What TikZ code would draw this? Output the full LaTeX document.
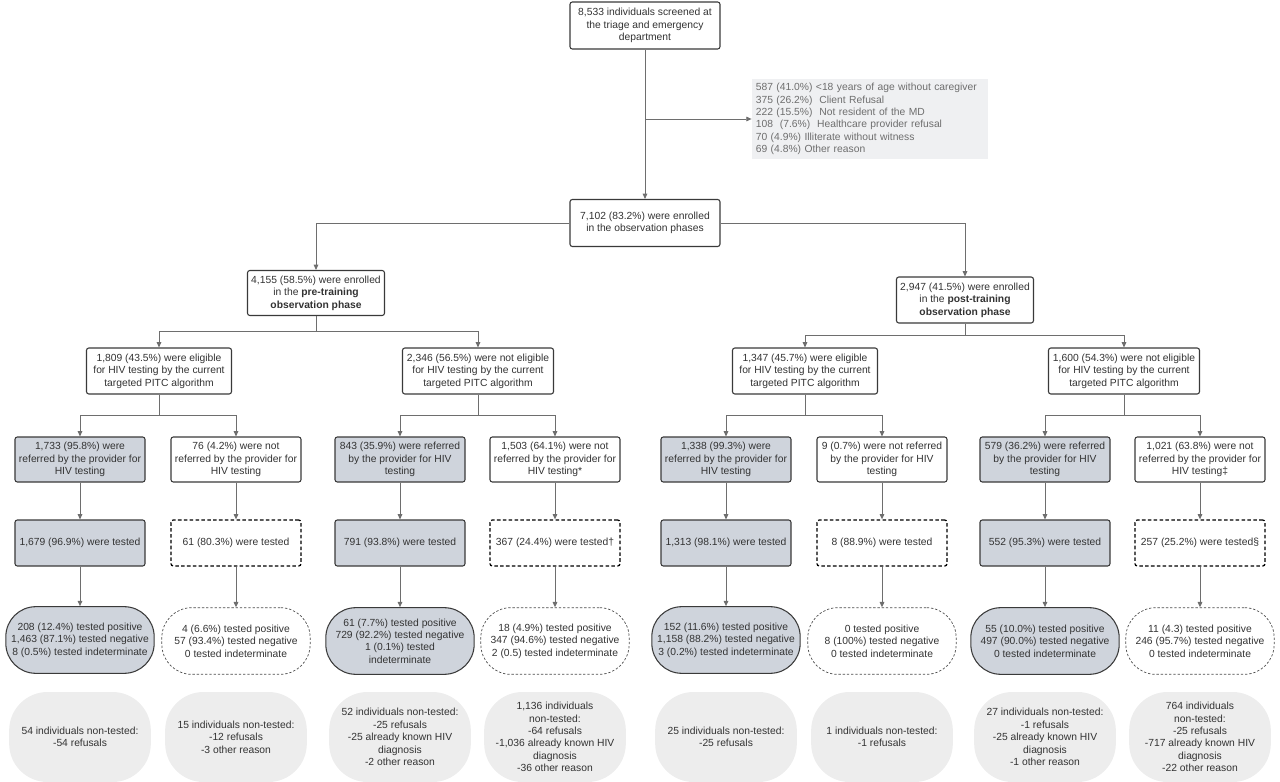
\documentclass[tikz,border=0pt]{standalone}
\usepackage{fontspec}
\setmainfont{Liberation Sans}
\usetikzlibrary{arrows.meta}
\definecolor{boxline}{HTML}{3A3A3A}
\definecolor{linkline}{HTML}{6E6E6E}
\definecolor{refgray}{HTML}{CFD4DC}
\definecolor{notegray}{HTML}{EFF0F2}
\definecolor{softgray}{HTML}{EDEDED}
\definecolor{textgray}{HTML}{333333}
\begin{document}
\begin{tikzpicture}[x=0.3mm,y=-0.3mm]
\tikzset{
  flowbox/.style={rectangle,rounded corners=2pt,draw=boxline,line width=0.9pt,fill=white,align=center,inner sep=1pt,
    text=textgray,font=\fontsize{8.8}{10.6}\selectfont},
  shaded/.style={flowbox,fill=refgray},
  dashbox/.style={flowbox,draw=black,line width=1.1pt,dash pattern=on 3pt off 2pt},
  resultpill/.style={flowbox,minimum width=4.45cm,minimum height=2.0cm,rounded corners=0.9cm},
  resultdash/.style={resultpill,draw=boxline!90,line width=0.6pt,dash pattern=on 2pt off 1.6pt},
  notepill/.style={rectangle,rounded corners=1.15cm,fill=softgray,align=center,inner sep=1pt,text=textgray,
    minimum width=4.25cm,minimum height=2.7cm,font=\fontsize{8.8}{10.6}\selectfont},
  link/.style={draw=linkline,line width=0.75pt,-{Triangle[length=1.6mm,width=1.4mm]}}
}
\useasboundingbox (0,0) rectangle (1280,782);
% screening and enrolment
\node[flowbox,minimum width=4.5cm,minimum height=1.41cm] (n_screen) at (645,25.5) {8,533 individuals screened at\\the triage and emergency\\department};
\node[rectangle,fill=notegray,text=linkline,align=left,text width=6.85cm,inner xsep=0.12cm,inner ysep=0.13cm,
  font=\fontsize{8.8}{10.6}\selectfont] (n_excl) at (870,119)
  {587 (41.0\%) <18 years of age without caregiver\\375 (26.2\%)~ Client Refusal\\222 (15.5\%)~ Not resident of the MD\\108~ (7.6\%)~ Healthcare provider refusal\\70 (4.9\%) Illiterate without witness\\69 (4.8\%) Other reason};
\node[flowbox,minimum width=4.5cm,minimum height=1.41cm] (n_enrol) at (645,223) {7,102 (83.2\%) were enrolled\\in the observation phases};
\node[flowbox,minimum width=4.11cm,minimum height=1.35cm] (n_pre) at (316,293) {4,155 (58.5\%) were enrolled\\in the \textbf{pre-training}\\\textbf{observation phase}};
\node[flowbox,minimum width=4.11cm,minimum height=1.38cm] (n_post) at (965,300) {2,947 (41.5\%) were enrolled\\in the \textbf{post-training}\\\textbf{observation phase}};
% eligibility
\node[flowbox,minimum width=4.35cm,minimum height=1.38cm] (n_el1) at (159,371) {1,809 (43.5\%) were eligible\\for HIV testing by the current\\targeted PITC algorithm};
\node[flowbox,minimum width=4.53cm,minimum height=1.38cm] (n_ne1) at (478,371) {2,346 (56.5\%) were not eligible\\for HIV testing by the current\\targeted PITC algorithm};
\node[flowbox,minimum width=4.35cm,minimum height=1.38cm] (n_el2) at (805,371) {1,347 (45.7\%) were eligible\\for HIV testing by the current\\targeted PITC algorithm};
\node[flowbox,minimum width=4.53cm,minimum height=1.38cm] (n_ne2) at (1124,371) {1,600 (54.3\%) were not eligible\\for HIV testing by the current\\targeted PITC algorithm};
% referral
\node[shaded,minimum width=3.9cm,minimum height=1.35cm] (n_ref1) at (80,459.5) {1,733 (95.8\%) were\\referred by the provider for\\HIV testing};
\node[flowbox,minimum width=3.9cm,minimum height=1.35cm] (n_ref2) at (236,459.5) {76 (4.2\%) were not\\referred by the provider for\\HIV testing};
\node[shaded,minimum width=3.9cm,minimum height=1.35cm] (n_ref3) at (400,459.5) {843 (35.9\%) were referred\\by the provider for HIV\\testing};
\node[flowbox,minimum width=3.9cm,minimum height=1.35cm] (n_ref4) at (555,459.5) {1,503 (64.1\%) were not\\referred by the provider for\\HIV testing*};
\node[shaded,minimum width=3.9cm,minimum height=1.35cm] (n_ref5) at (726,459.5) {1,338 (99.3\%) were\\referred by the provider for\\HIV testing};
\node[flowbox,minimum width=3.9cm,minimum height=1.35cm] (n_ref6) at (882,459.5) {9 (0.7\%) were not referred\\by the provider for HIV\\testing};
\node[shaded,minimum width=3.9cm,minimum height=1.35cm] (n_ref7) at (1045,459.5) {579 (36.2\%) were referred\\by the provider for HIV\\testing};
\node[flowbox,minimum width=3.9cm,minimum height=1.35cm] (n_ref8) at (1200,459.5) {1,021 (63.8\%) were not\\referred by the provider for\\HIV testing‡};
% testing
\node[shaded,minimum width=3.9cm,minimum height=1.38cm] (n_test1) at (80,543) {1,679 (96.9\%) were tested};
\node[dashbox,minimum width=3.9cm,minimum height=1.38cm] (n_test2) at (236,543) {61 (80.3\%) were tested};
\node[shaded,minimum width=3.9cm,minimum height=1.38cm] (n_test3) at (400,543) {791 (93.8\%) were tested};
\node[dashbox,minimum width=3.9cm,minimum height=1.38cm] (n_test4) at (555,543) {367 (24.4\%) were tested†};
\node[shaded,minimum width=3.9cm,minimum height=1.38cm] (n_test5) at (726,543) {1,313 (98.1\%) were tested};
\node[dashbox,minimum width=3.9cm,minimum height=1.38cm] (n_test6) at (882,543) {8 (88.9\%) were tested};
\node[shaded,minimum width=3.9cm,minimum height=1.38cm] (n_test7) at (1045,543) {552 (95.3\%) were tested};
\node[dashbox,minimum width=3.9cm,minimum height=1.38cm] (n_test8) at (1200,543) {257 (25.2\%) were tested§};
% results
\node[resultpill,fill=refgray] (n_res1) at (80,640) {208 (12.4\%) tested positive\\1,463 (87.1\%) tested negative\\8 (0.5\%) tested indeterminate};
\node[resultdash] (n_res2) at (236,641) {4 (6.6\%) tested positive\\57 (93.4\%) tested negative\\0 tested indeterminate};
\node[resultpill,fill=refgray] (n_res3) at (400,641) {61 (7.7\%) tested positive\\729 (92.2\%) tested negative\\1 (0.1\%) tested\\indeterminate};
\node[resultdash] (n_res4) at (555,641) {18 (4.9\%) tested positive\\347 (94.6\%) tested negative\\2 (0.5) tested indeterminate};
\node[resultpill,fill=refgray] (n_res5) at (726,640) {152 (11.6\%) tested positive\\1,158 (88.2\%) tested negative\\3 (0.2\%) tested indeterminate};
\node[resultdash] (n_res6) at (882,641) {0 tested positive\\8 (100\%) tested negative\\0 tested indeterminate};
\node[resultpill,fill=refgray] (n_res7) at (1045,641) {55 (10.0\%) tested positive\\497 (90.0\%) tested negative\\0 tested indeterminate};
\node[resultdash] (n_res8) at (1200,641) {11 (4.3) tested positive\\246 (95.7\%) tested negative\\0 tested indeterminate};
% non-tested
\node[notepill] (n_non1) at (80,737) {54 individuals non-tested:\\-54 refusals};
\node[notepill] (n_non2) at (236,737) {15 individuals non-tested:\\-12 refusals\\-3 other reason};
\node[notepill] (n_non3) at (400,737) {52 individuals non-tested:\\-25 refusals\\-25 already known HIV\\diagnosis\\-2 other reason};
\node[notepill] (n_non4) at (555,737) {1,136 individuals\\non-tested:\\-64 refusals\\-1,036 already known HIV\\diagnosis\\-36 other reason};
\node[notepill] (n_non5) at (726,737) {25 individuals non-tested:\\-25 refusals};
\node[notepill] (n_non6) at (882,737) {1 individuals non-tested:\\-1 refusals};
\node[notepill] (n_non7) at (1045,737) {27 individuals non-tested:\\-1 refusals\\-25 already known HIV\\diagnosis\\-1 other reason};
\node[notepill] (n_non8) at (1200,737) {764 individuals\\non-tested:\\-25 refusals\\-717 already known HIV\\diagnosis\\-22 other reason};
% connectors
\draw[link] (n_screen) -- (n_enrol);
\draw[link] (n_screen.south |- n_excl.west) -- (n_excl.west);
\draw[link] (n_enrol.west) -| (n_pre.north);
\draw[link] (n_enrol.east) -| (n_post.north);
\draw[link] (n_pre.south) -- ++(0,15) -| (n_el1.north);
\draw[link] (n_pre.south) -- ++(0,15) -| (n_ne1.north);
\draw[link] (n_post.south) -- ++(0,12) -| (n_el2.north);
\draw[link] (n_post.south) -- ++(0,12) -| (n_ne2.north);
\draw[link] (n_el1.south) -- ++(0,21) -| (n_ref1.north);
\draw[link] (n_el1.south) -- ++(0,21) -| (n_ref2.north);
\draw[link] (n_ne1.south) -- ++(0,21) -| (n_ref3.north);
\draw[link] (n_ne1.south) -- ++(0,21) -| (n_ref4.north);
\draw[link] (n_el2.south) -- ++(0,21) -| (n_ref5.north);
\draw[link] (n_el2.south) -- ++(0,21) -| (n_ref6.north);
\draw[link] (n_ne2.south) -- ++(0,21) -| (n_ref7.north);
\draw[link] (n_ne2.south) -- ++(0,21) -| (n_ref8.north);
\draw[link] (n_ref1) -- (n_test1);
\draw[link] (n_ref2) -- (n_test2);
\draw[link] (n_ref3) -- (n_test3);
\draw[link] (n_ref4) -- (n_test4);
\draw[link] (n_ref5) -- (n_test5);
\draw[link] (n_ref6) -- (n_test6);
\draw[link] (n_ref7) -- (n_test7);
\draw[link] (n_ref8) -- (n_test8);
\draw[link] (n_test1) -- (n_res1);
\draw[link] (n_test2) -- (n_res2);
\draw[link] (n_test3) -- (n_res3);
\draw[link] (n_test4) -- (n_res4);
\draw[link] (n_test5) -- (n_res5);
\draw[link] (n_test6) -- (n_res6);
\draw[link] (n_test7) -- (n_res7);
\draw[link] (n_test8) -- (n_res8);
\end{tikzpicture}
\end{document}
